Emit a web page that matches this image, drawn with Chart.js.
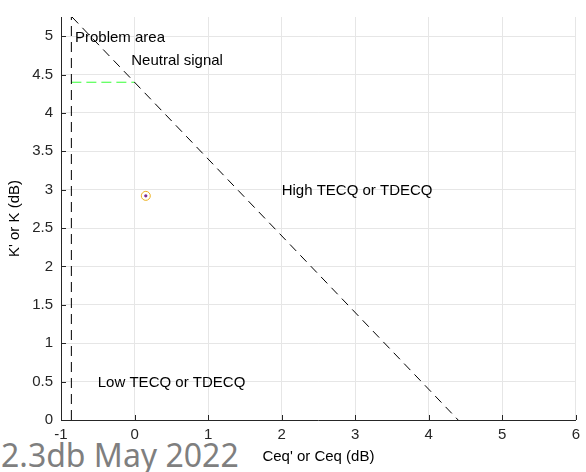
<!DOCTYPE html>
<html>
<head>
<meta charset="utf-8">
<script src="https://cdn.jsdelivr.net/npm/chart.js@4"></script>
<style>
  body { margin: 0; background: #fff; }
  #wrap { position: relative; width: 586px; height: 472px; }
  #stamp { position: absolute; left: 1px; top: 439px; font: 32px/32px 'Noto Sans', sans-serif; color: #7f7f7f; white-space: nowrap; }
  #regions { position: absolute; left: 0; top: 0; }
</style>
</head>
<body>
<div id="wrap">
  <div id="stamp">2.3db May 2022</div>
  <canvas id="regions" width="586" height="472"></canvas>
</div>
<script>
// region boundaries (dB)
const limitX = [-0.859, -0.859];
const limitY = [0, 5.25];
const diagX = [-0.85, 4.4];
const diagY = [5.25, 0];
const neutralX = [-0.859, 0];
const neutralY = [4.4, 4.4];

// measured point
const measX = [0.153];
const measY = [2.92];

// text labels in the plot
const noteText = ['Problem area', 'Neutral signal', 'High TECQ or TDECQ', 'Low TECQ or TDECQ'];
const noteX = [-0.81, -0.045, 2.0, -0.5];
const noteY = [4.98, 4.68, 2.99, 0.49];

const xTicks = [-1, 0, 1, 2, 3, 4, 5, 6];
const yTicks = [0, 0.5, 1, 1.5, 2, 2.5, 3, 3.5, 4, 4.5, 5];

const pts = (xs, ys) => xs.map((x, i) => ({ x: x, y: ys[i] }));
const FONT = 'Liberation Sans, Arial, sans-serif';

// labels + small inward tick marks
const extras = {
    id: 'extras',
    afterDraw(chart) {
        const c = chart.ctx, xs = chart.scales.x, ys = chart.scales.y;
        c.save();
        c.strokeStyle = '#262626';
        c.lineWidth = 1;
        c.beginPath();
        xTicks.forEach(v => {
            const px = Math.round(xs.getPixelForValue(v)) + 0.5;
            c.moveTo(px, ys.bottom); c.lineTo(px, ys.bottom - 5);
        });
        yTicks.forEach(v => {
            const py = Math.round(ys.getPixelForValue(v)) + 0.5;
            c.moveTo(xs.left, py); c.lineTo(xs.left + 5, py);
        });
        c.stroke();
        c.fillStyle = '#000';
        c.font = '15px ' + FONT;
        c.textBaseline = 'middle';
        c.textAlign = 'left';
        noteText.forEach((t, i) => {
            c.fillText(t, xs.getPixelForValue(noteX[i]), ys.getPixelForValue(noteY[i]));
        });
        c.restore();
    }
};

const lineSet = (data, color, dash) => ({
    data: data, showLine: true, borderColor: color, borderWidth: 1,
    borderDash: dash, pointRadius: 0, fill: false
});

new Chart(document.getElementById('regions').getContext('2d'), {
    type: 'scatter',
    data: {
        datasets: [
            lineSet(pts(limitX, limitY), '#000', [10, 6]),
            lineSet(pts(diagX, diagY), '#000', [9, 6]),
            lineSet(pts(neutralX, neutralY), '#33ff33', [10, 5]),
            {
                data: pts(measX, measY), pointRadius: 4.5, borderWidth: 1,
                borderColor: '#EDB120', backgroundColor: 'rgba(0,0,0,0)'
            },
            {
                data: pts(measX, measY), pointRadius: 1.6, borderWidth: 0,
                backgroundColor: '#7E2F8E'
            }
        ]
    },
    options: {
        responsive: false,
        animation: false,
        layout: { padding: { top: 7, right: 5, left: 0, bottom: 0 } },
        plugins: { legend: { display: false }, tooltip: { enabled: false } },
        scales: {
            x: {
                type: 'linear', min: -1, max: 6,
                afterBuildTicks: s => { s.ticks = xTicks.map(v => ({ value: v })); },
                afterFit: s => { s.height = 52; },
                grid: { color: '#e6e6e6', drawTicks: false },
                border: { color: '#262626', width: 1 },
                ticks: { color: '#262626', padding: 6, font: { family: FONT, size: 15 }, callback: v => String(v) },
                title: {
                    display: true, text: "Ceq' or Ceq (dB)", color: '#000',
                    font: { family: FONT, size: 15 }, padding: { top: 2, bottom: 6 }
                }
            },
            y: {
                type: 'linear', min: 0, max: 5.25,
                afterBuildTicks: s => { s.ticks = yTicks.map(v => ({ value: v })); },
                afterFit: s => { s.width = 61; },
                grid: { color: '#e6e6e6', drawTicks: false },
                border: { color: '#262626', width: 1 },
                ticks: { color: '#262626', padding: 8, font: { family: FONT, size: 15 }, callback: v => String(v) },
                title: {
                    display: true, text: "K' or K (dB)", color: '#000',
                    font: { family: FONT, size: 15 }, padding: { top: 6, bottom: 2 }
                }
            }
        }
    },
    plugins: [extras]
});
</script>
</body>
</html>
